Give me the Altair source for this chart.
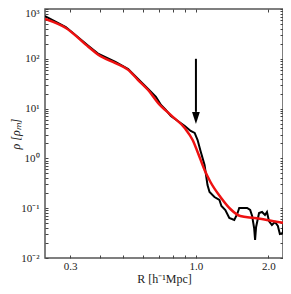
import altair as alt
import pandas as pd

# Measured density profile (black)
R_data = [0.236, 0.288, 0.358, 0.394, 0.463, 0.523, 0.575, 0.633, 0.682, 0.716,
          0.750, 0.787, 0.841, 0.899, 0.951, 0.988, 1.016, 1.045, 1.086, 1.117,
          1.139, 1.194, 1.252, 1.276, 1.325, 1.376, 1.443, 1.485, 1.513, 1.632,
          1.680, 1.712, 1.745, 1.761, 1.778, 1.829, 1.882, 1.936, 1.973, 2.011,
          2.069, 2.129, 2.190, 2.232, 2.296, 2.318]
rho_data = [723, 435, 181, 125, 86.2, 62.4, 39.3, 24.7, 17.1, 11.8,
            9.37, 7.10, 5.64, 4.48, 3.55, 3.24, 2.34, 1.41, 0.736, 0.292,
            0.211, 0.168, 0.146, 0.111, 0.092, 0.0635, 0.058, 0.0765, 0.101, 0.101,
            0.092, 0.0697, 0.040, 0.023, 0.0419, 0.080, 0.084, 0.073, 0.084, 0.0553,
            0.046, 0.0528, 0.044, 0.0303, 0.0318, 0.058]

# Fitted profile (red)
R_fit = [0.236, 0.288, 0.358, 0.394, 0.463, 0.523, 0.575, 0.633, 0.697, 0.787,
         0.898, 0.969, 1.016, 1.086, 1.149, 1.264, 1.39, 1.528, 1.745, 1.97, 2.32]
rho_fit = [630, 415, 173, 119, 82, 60, 37.5, 23.6, 12.9, 7.4,
           4.07, 2.34, 1.35, 0.585, 0.336, 0.168, 0.0964, 0.0697, 0.0635, 0.058, 0.0504]

# Arrow marker
arrow_R = [1.0]
arrow_top = [100]
arrow_base = [8.6]
arrow_head = [6.5]

x_ticks = [0.3, 0.4, 0.5, 0.6, 0.7, 0.8, 0.9, 1.0, 2.0]
y_decades = [0.01, 0.1, 1, 10, 100]
y_ticks = [d * k for d in y_decades for k in range(1, 10)] + [1000]

df_data = pd.DataFrame({"R": R_data, "rho": rho_data})
df_fit = pd.DataFrame({"R": R_fit, "rho": rho_fit})
df_arrow = pd.DataFrame({"R": arrow_R, "top": arrow_top, "base": arrow_base, "head": arrow_head})

FONT = "Liberation Serif"
xs = alt.Scale(type="log", domain=[0.236, 2.3], nice=False)
ys = alt.Scale(type="log", domain=[0.01, 1000], nice=False)

x_lab_expr = "indexof([0.3, 1, 2], datum.value) >= 0 ? format(datum.value, '.1f') : ''"
y_lab_expr = ("abs(log(datum.value)/LN10 - round(log(datum.value)/LN10)) > 0.01 ? '' : "
              "'10' + ['\u207b\u00b2','\u207b\u00b9','\u2070','\u00b9','\u00b2','\u00b3'][round(log(datum.value)/LN10)+2]")

bottom_axis = alt.Axis(orient="bottom", values=x_ticks, labelExpr=x_lab_expr,
                       domain=False, offset=-3, tickSize=3, tickColor="#444",
                       labelFont=FONT, labelFontSize=11, labelColor="#222", labelPadding=2,
                       grid=False, title="R [h\u207b\u00b9Mpc]", titleFont=FONT,
                       titleFontSize=12, titleFontWeight="normal", titleColor="#222",
                       titleY=23, titleBaseline="middle")
left_axis = alt.Axis(orient="left", values=y_ticks, labelExpr=y_lab_expr,
                     domain=False, offset=-3, tickSize=3, tickColor="#444",
                     labelFont=FONT, labelFontSize=11, labelColor="#222", labelPadding=6,
                     labelOffset={"condition": {"test": "datum.value > 500", "value": 4}, "value": 0},
                     grid=False, title="\u03c1 [\u03c1\u2098]", titleFont=FONT,
                     titleFontSize=12, titleFontWeight="normal", titleColor="#222",
                     titleFontStyle="italic",
                     titleX=-33, titleY=124.5, titleAngle=-90, titleBaseline="middle",
                     titleAlign="center")
top_axis = alt.Axis(orient="top", values=x_ticks, labels=False, domain=False,
                    offset=-3, tickSize=3, tickColor="#444", grid=False, title=None)
right_axis = alt.Axis(orient="right", values=y_ticks, labels=False, domain=False,
                      offset=-3, tickSize=3, tickColor="#444", grid=False, title=None)

black = alt.Chart(df_data).mark_line(color="black", strokeWidth=2, clip=True).encode(
    x=alt.X("R:Q", scale=xs, axis=bottom_axis),
    y=alt.Y("rho:Q", scale=ys, axis=left_axis),
)
red = alt.Chart(df_fit).mark_line(color="#ee1111", strokeWidth=2.5, clip=True,
                                  interpolate="monotone").encode(
    x=alt.X("R:Q", scale=xs, axis=top_axis),
    y=alt.Y("rho:Q", scale=ys, axis=right_axis),
)
shaft = alt.Chart(df_arrow).mark_rule(color="black", strokeWidth=2).encode(
    x=alt.X("R:Q", scale=xs, axis=None),
    y=alt.Y("top:Q", scale=ys, axis=None),
    y2="base:Q",
)
head = alt.Chart(df_arrow).mark_point(
    shape="M-0.65,-1L0.65,-1L0,1Z", size=144, filled=True, color="black", opacity=1
).encode(
    x=alt.X("R:Q", scale=xs, axis=None),
    y=alt.Y("head:Q", scale=ys, axis=None),
)

chart = alt.layer(black, red, shaft, head).resolve_axis(
    x="independent", y="independent"
).properties(
    width=238, height=249,
    autosize=alt.AutoSizeParams(type="none"),
    padding={"left": 37, "top": 1, "right": 0, "bottom": 28},
).configure_view(stroke="#555", strokeWidth=1.5)

chart.save("out.html", embed_options={"renderer": "svg", "actions": False})
